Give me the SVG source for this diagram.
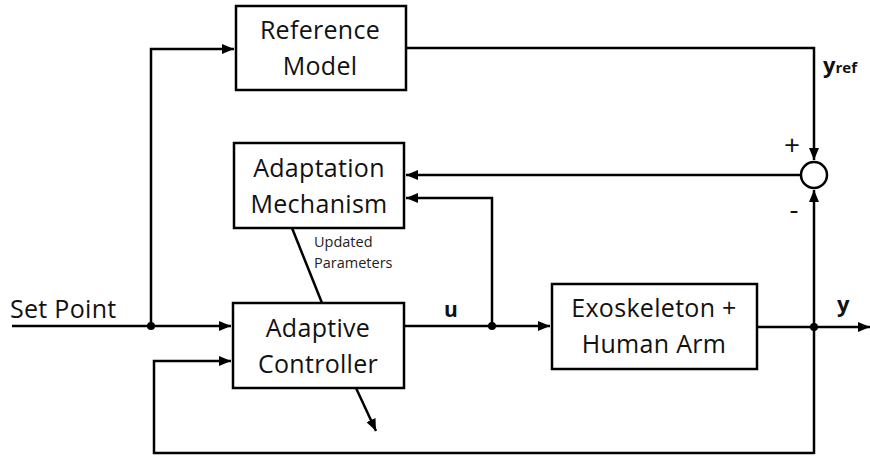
<svg xmlns="http://www.w3.org/2000/svg" width="870" height="457" viewBox="0 0 870 457">
  <defs>
    <marker id="arrow" viewBox="0 0 12 10" refX="12" refY="5" markerWidth="12" markerHeight="10" markerUnits="userSpaceOnUse" orient="auto">
      <path d="M0,0 L12,5 L0,10 Z" fill="#000"/>
    </marker>
  </defs>
  <style>
    .box { fill: #fff; stroke: #000; stroke-width: 2.5; }
    .wire { fill: none; stroke: #000; stroke-width: 2.5; }
    .lbl { font-family: "Open Sans", "Noto Sans", sans-serif; font-size: 25px; letter-spacing: 0.3px; fill: #111; text-anchor: middle; }
    .sig { font-family: "Open Sans", "Noto Sans", sans-serif; font-weight: bold; fill: #111; }
    .sign { font-family: "Open Sans", "Noto Sans", sans-serif; font-size: 28px; fill: #111; text-anchor: middle; }
    .small { font-family: "Open Sans", "Noto Sans", sans-serif; font-size: 14.5px; fill: #222; }
    .dot { fill: #000; }
  </style>

  <g id="connectors">
    <!-- set point input and branch to reference model -->
    <path class="wire" d="M12,326 L231,326" marker-end="url(#arrow)"/>
    <path class="wire" d="M151,326 L151,49 L234,49" marker-end="url(#arrow)"/>
    <!-- reference model output to summing junction -->
    <path class="wire" d="M406,48 L814,48 L814,160" marker-end="url(#arrow)"/>
    <!-- error to adaptation mechanism -->
    <path class="wire" d="M801,175 L406,175" marker-end="url(#arrow)"/>
    <!-- control signal u -->
    <path class="wire" d="M404,326 L550,326" marker-end="url(#arrow)"/>
    <path class="wire" d="M492,326 L492,198 L406,198" marker-end="url(#arrow)"/>
    <!-- updated parameters link -->
    <path class="wire" d="M292,228 L322,303"/>
    <!-- adjustment arrow through controller -->
    <path class="wire" d="M356,388 L376,431" marker-end="url(#arrow)"/>
    <!-- plant output -->
    <path class="wire" d="M757,327 L870,327" marker-end="url(#arrow)"/>
    <path class="wire" d="M814,454 L814,190" marker-end="url(#arrow)"/>
    <!-- feedback of y into controller -->
    <path class="wire" d="M814,453 L154,453 L154,361 L231,361" marker-end="url(#arrow)"/>
    <circle class="dot" cx="151" cy="326" r="4"/>
    <circle class="dot" cx="492" cy="326" r="4"/>
    <circle class="dot" cx="814" cy="327" r="4"/>
  </g>

  <g id="reference-model">
    <rect class="box" x="236" y="6" width="170" height="84"/>
    <text class="lbl" x="320" y="39">Reference</text>
    <text class="lbl" x="320" y="75">Model</text>
  </g>

  <g id="adaptation-mechanism">
    <rect class="box" x="234" y="143" width="170" height="85"/>
    <text class="lbl" x="319" y="177">Adaptation</text>
    <text class="lbl" x="319" y="213">Mechanism</text>
  </g>

  <g id="adaptive-controller">
    <rect class="box" x="233" y="303" width="171" height="85"/>
    <text class="lbl" x="318" y="337">Adaptive</text>
    <text class="lbl" x="318" y="373">Controller</text>
  </g>

  <g id="plant">
    <rect class="box" x="552" y="284" width="205" height="85"/>
    <text class="lbl" x="654" y="317">Exoskeleton +</text>
    <text class="lbl" x="654" y="353">Human Arm</text>
  </g>

  <g id="summing-junction">
    <circle class="box" cx="814" cy="175" r="13"/>
    <text class="sign" x="792" y="155">+</text>
    <text class="sign" x="794" y="219">-</text>
  </g>

  <g id="labels">
    <text class="lbl" x="10" y="318" style="text-anchor:start">Set Point</text>
    <text class="small" x="314" y="247">Updated</text>
    <text class="small" x="314" y="268">Parameters</text>
    <text class="sig" x="444" y="317" font-size="21">u</text>
    <text class="sig" x="837" y="312" font-size="22">y</text>
    <text class="sig" x="823" y="73" font-size="22">y<tspan font-size="15">ref</tspan></text>
  </g>
</svg>
